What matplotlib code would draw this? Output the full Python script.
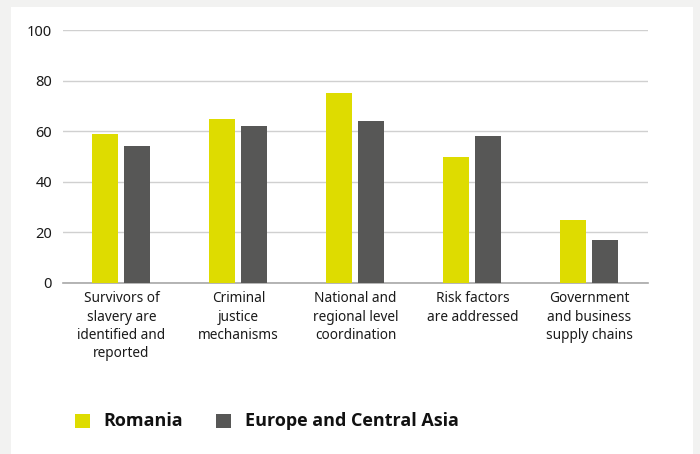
import numpy as np
import matplotlib.pyplot as plt
from matplotlib.patches import Rectangle

plt.rcParams["font.family"] = ["Noto Sans", "DejaVu Sans"]

categories = [
    "Survivors of\nslavery are\nidentified and\nreported",
    "Criminal\njustice\nmechanisms",
    "National and\nregional level\ncoordination",
    "Risk factors\nare addressed",
    "Government\nand business\nsupply chains",
]
romania = [59, 65, 75, 50, 25]
europe_central_asia = [54, 62, 64, 58, 17]
series_names = ["Romania", "Europe and Central Asia"]
y_ticks = [0, 20, 40, 60, 80, 100]

YELLOW = "#dedc00"
GREY = "#575756"

fig = plt.figure(figsize=(7.0, 4.54), dpi=100)
fig.patch.set_facecolor("#f2f2f1")
# white card behind the chart
fig.add_artist(Rectangle((11 / 700, 0), 682 / 700, 1 - 7 / 454,
                         transform=fig.transFigure, facecolor="white",
                         edgecolor="none", zorder=0))

ax = fig.add_axes([63 / 700, 1 - 283 / 454, 585 / 700, 253 / 454])
ax.set_facecolor("none")

x = np.arange(len(categories))
w = 0.222
ax.bar(x - 0.14, romania, width=w, color=YELLOW, zorder=3)
ax.bar(x + 0.13, europe_central_asia, width=w, color=GREY, zorder=3)

ax.set_xlim(-0.5, len(categories) - 0.5)
ax.set_ylim(0, 100)
ax.set_yticks(y_ticks)
ax.set_yticklabels([str(t) for t in y_ticks], fontsize=10.5, color="#1a1a1a")
ax.set_xticks(x)
ax.set_xticklabels(categories, fontsize=9.8, color="#1a1a1a", linespacing=1.3)
ax.tick_params(axis="both", length=0)
ax.tick_params(axis="y", pad=8)
ax.tick_params(axis="x", pad=6)

ax.grid(axis="y", color="#d0d0d0", linewidth=1, zorder=0)
for s in ["top", "right", "left"]:
    ax.spines[s].set_visible(False)
ax.spines["bottom"].set_color("#a8a8a8")
ax.spines["bottom"].set_linewidth(1.2)

# legend drawn by hand to match square markers and spacing
legend_items = [(75, YELLOW, series_names[0], 103), (216, GREY, series_names[1], 245)]
for mx, color, label, tx in legend_items:
    fig.add_artist(Rectangle((mx / 700, 1 - 428 / 454), 15 / 700, 14 / 454,
                             transform=fig.transFigure, facecolor=color,
                             edgecolor="none"))
    fig.text(tx / 700, 1 - 421 / 454, label, fontsize=13, fontweight="bold",
             family=["Open Sans", "DejaVu Sans"],
             va="center", ha="left", color="#111111")

fig.savefig("out.png", dpi=100, facecolor=fig.get_facecolor())
